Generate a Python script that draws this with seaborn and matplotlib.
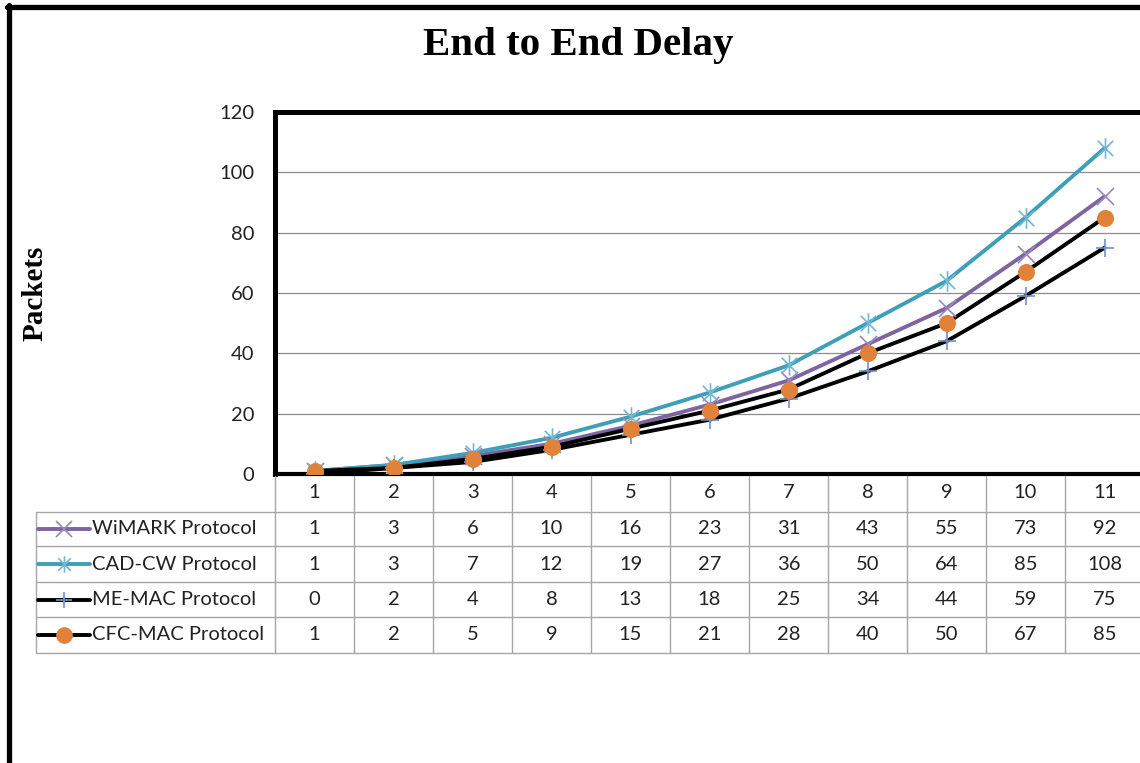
import pandas as pd
import seaborn as sns
import matplotlib.pyplot as plt
from matplotlib.lines import Line2D
from matplotlib.path import Path
from matplotlib import transforms

x_vals = list(range(1, 12))
wimark = [1, 3, 6, 10, 16, 23, 31, 43, 55, 73, 92]
cadcw = [1, 3, 7, 12, 19, 27, 36, 50, 64, 85, 108]
memac = [0, 2, 4, 8, 13, 18, 25, 34, 44, 59, 75]
cfcmac = [1, 2, 5, 9, 15, 21, 28, 40, 50, 67, 85]
names = ['WiMARK Protocol', 'CAD-CW Protocol', 'ME-MAC Protocol', 'CFC-MAC Protocol']
series = [wimark, cadcw, memac, cfcmac]

line_colors = ['#7E64A0', '#3E9FB8', '#000000', '#000000']
marker_colors = ['#9B87BD', '#72B8D0', '#6E8FC9', '#E0823A']
star = Path([(0, -1), (0, 1), (-0.75, -0.75), (0.75, 0.75), (-0.75, 0.75), (0.75, -0.75)],
            [Path.MOVETO, Path.LINETO, Path.MOVETO, Path.LINETO, Path.MOVETO, Path.LINETO])
markers = ['x', star, '+', 'o']
msizes = [150, 220, 170, 150]

rows = []
for n, vals in zip(names, series):
    for x, v in zip(x_vals, vals):
        rows.append({'x': x, 'val': v, 'series': n})
df = pd.DataFrame(rows)

sns.set_style('white')
plt.rcParams['font.family'] = ['Lato', 'DejaVu Sans']

W, H = 1140, 763
fig = plt.figure(figsize=(W / 100, H / 100), dpi=100)


def fx(px):
    return px / W


def fy(py):
    return 1 - py / H


ax_left, ax_right, ax_top, ax_bot = 275, 1144, 112, 474
ax = fig.add_axes([fx(ax_left), fy(ax_bot), fx(ax_right - ax_left), (ax_bot - ax_top) / H])

sns.lineplot(data=df, x='x', y='val', hue='series', palette=line_colors,
             linewidth=2.8, legend=False, ax=ax)
for n, mk, mc, s in zip(names, markers, marker_colors, msizes):
    sub = df[df['series'] == n]
    if mk == 'o':
        sns.scatterplot(data=sub, x='x', y='val', marker=mk, color=mc, s=s,
                        edgecolor=mc, linewidth=0, ax=ax, zorder=5, legend=False)
    else:
        sns.scatterplot(data=sub, x='x', y='val', marker=mk, color=mc, s=s,
                        edgecolor=mc, linewidth=1.2, ax=ax, zorder=4, legend=False)

ax.set_xlim(0.5, 11.5)
ax.set_ylim(0, 120)
ax.set_yticks(range(0, 121, 20))
ax.set_xticks(x_vals)
ax.tick_params(axis='y', length=0, pad=15, labelsize=14.5, labelcolor='#222222')
ax.tick_params(axis='x', length=0, pad=7, labelsize=14.5, labelcolor='#222222')
ax.set_xlabel('')
ax.set_ylabel('')
for yv in range(20, 101, 20):
    ax.axhline(yv, color='#8C8C8C', lw=0.9, zorder=0)
ax.spines['right'].set_visible(False)
for side in ['top', 'left']:
    ax.spines[side].set_linewidth(3.6)
    ax.spines[side].set_color('black')
ax.spines['bottom'].set_linewidth(3.0)
ax.spines['bottom'].set_color('black')

# outer frame
fig.add_artist(Line2D([fx(9), fx(9)], [fy(5), 0], transform=fig.transFigure, color='black', lw=3.8))
fig.add_artist(Line2D([fx(7), 1], [fy(7), fy(7)], transform=fig.transFigure, color='black', lw=3.8))

fig.text(fx(578), fy(46), 'End to End Delay', ha='center', va='center',
         family='Liberation Serif', weight='bold', size=29.5, color='black')
fig.text(fx(35), fy(293), 'Packets', ha='center', va='center', rotation=90,
         family='Liberation Serif', weight='bold', size=21, color='black')

# data table below the axis
grid_c = '#A6A6A6'
blend = transforms.blended_transform_factory(ax.transData, fig.transFigure)
row_lines = [512, 546, 582, 617, 653]
for r in row_lines:
    fig.add_artist(Line2D([fx(36), 1], [fy(r), fy(r)], transform=fig.transFigure, color=grid_c, lw=1))
fig.add_artist(Line2D([fx(36), fx(36)], [fy(512), fy(653)], transform=fig.transFigure, color=grid_c, lw=1))
for k in range(12):
    fig.add_artist(Line2D([0.5 + k, 0.5 + k], [fy(476), fy(653)], transform=blend, color=grid_c, lw=1))

for i, (n, vals) in enumerate(zip(names, series)):
    yc = (row_lines[i] + row_lines[i + 1]) / 2
    fig.add_artist(Line2D([fx(38), fx(90)], [fy(yc), fy(yc)], transform=fig.transFigure,
                          color=line_colors[i], lw=2.8))
    ms = {0: 11, 1: 12, 2: 12, 3: 12}[i]
    fig.add_artist(Line2D([fx(64)], [fy(yc)], transform=fig.transFigure, marker=markers[i],
                          markersize=ms, color=marker_colors[i], mec=marker_colors[i],
                          mew=1.2 if i < 3 else 0, linestyle='none'))
    fig.text(fx(92), fy(yc), n, ha='left', va='center', size=14.5, color='#222222')
    for x, v in zip(x_vals, vals):
        fig.text(x, fy(yc), str(v), transform=blend, ha='center', va='center',
                 size=14.5, color='#222222')

fig.savefig('out.png', dpi=100)
